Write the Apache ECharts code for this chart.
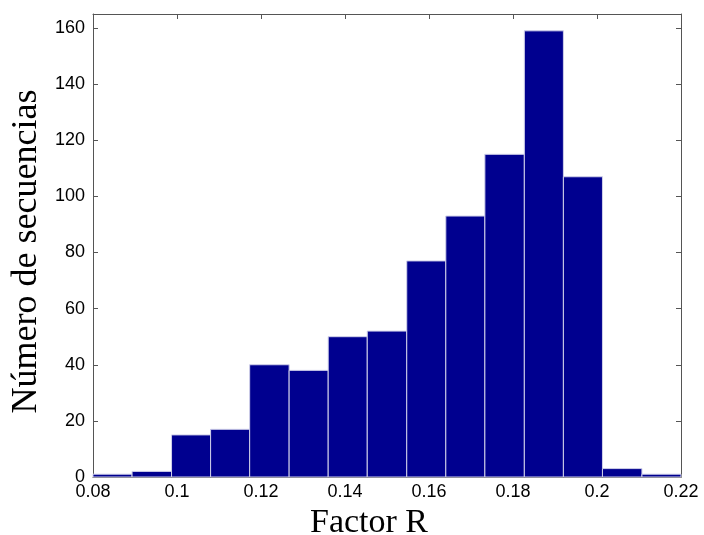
<!DOCTYPE html>
<html>
<head>
<meta charset="utf-8">
<script src="https://cdn.jsdelivr.net/npm/echarts@6/dist/echarts.min.js"></script>
<style>html,body{margin:0;padding:0;background:#fff;}#c{width:704px;height:535px;}</style>
</head>
<body>
<div id="c"></div>
<script>
const binStart = [0.0800,0.0893,0.0987,0.1080,0.1173,0.1267,0.1360,0.1453,0.1547,0.1640,0.1733,0.1827,0.1920,0.2013,0.2107];
const binEnd   = [0.0893,0.0987,0.1080,0.1173,0.1267,0.1360,0.1453,0.1547,0.1640,0.1733,0.1827,0.1920,0.2013,0.2107,0.2200];
const counts   = [1,2,15,17,40,38,50,52,77,93,115,159,107,3,1];
const xTitle = 'Factor R';
const yTitle = 'Número de secuencias';

const data = counts.map((v,i)=>[binStart[i], binEnd[i], v]);
const chart = echarts.init(document.getElementById('c'));
const fmt = v => parseFloat(Number(v).toFixed(2)).toString();
const axisLine = {show:true, onZero:false, lineStyle:{color:'#555', width:1}};
const tick = {inside:true, length:5, lineStyle:{color:'#555'}};
chart.setOption({
  animation:false,
  grid:{left:93, right:23, top:14, bottom:58, containLabel:false, outerBoundsMode:'none'},
  xAxis:[{
    type:'value', min:0.08, max:0.22, interval:0.02,
    name:xTitle, nameLocation:'middle', nameGap:19,
    nameTextStyle:{fontFamily:'Liberation Serif', fontSize:34, color:'#000', padding:[0,36,0,0]},
    axisLine:axisLine, axisTick:tick,
    axisLabel:{formatter:fmt, fontFamily:'Liberation Sans', fontSize:18, color:'#000', margin:6},
    splitLine:{show:false}
  },{
    type:'value', position:'top', min:0.08, max:0.22, interval:0.02,
    axisLine:axisLine, axisTick:tick,
    axisLabel:{show:false}, splitLine:{show:false}
  }],
  yAxis:[{
    type:'value', min:0, max:165, interval:20,
    name:yTitle, nameLocation:'middle', nameGap:46,
    nameTextStyle:{fontFamily:'Liberation Serif', fontSize:36, color:'#000', padding:[0,12,0,0]},
    axisLine:axisLine, axisTick:tick,
    axisLabel:{fontFamily:'Liberation Sans', fontSize:18, color:'#000', margin:8, showMaxLabel:false},
    splitLine:{show:false}
  },{
    type:'value', position:'right', min:0, max:165, interval:20,
    axisLine:axisLine, axisTick:tick,
    axisLabel:{show:false}, splitLine:{show:false}
  }],
  series:[{
    type:'custom',
    xAxisIndex:0, yAxisIndex:0,
    data:data,
    encode:{x:[0,1], y:2},
    renderItem:function(params, api){
      const p0 = api.coord([api.value(0), api.value(2)]);
      const p1 = api.coord([api.value(1), 0]);
      return {
        type:'rect',
        shape:{x:p0[0], y:p0[1], width:p1[0]-p0[0], height:p1[1]-p0[1]},
        style:{fill:'#00008F', stroke:'#d0d0ea', lineWidth:1}
      };
    }
  }]
});
</script>
</body>
</html>
